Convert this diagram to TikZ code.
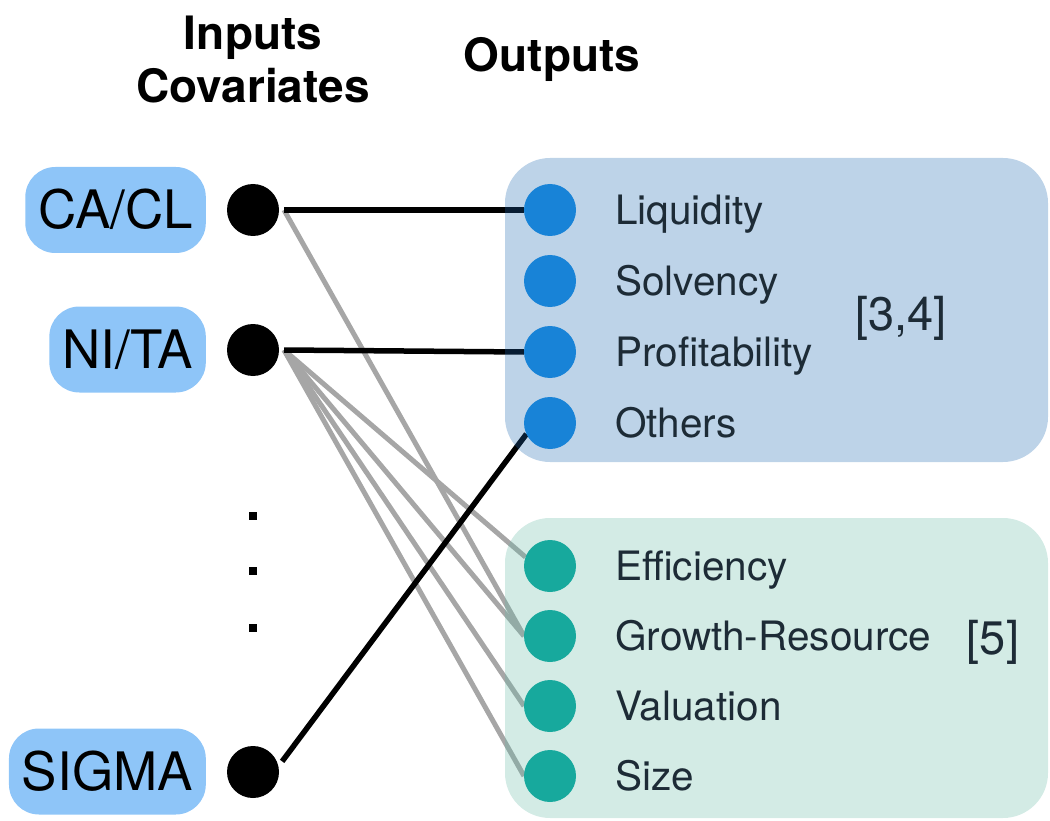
\documentclass[tikz,border=0pt]{standalone}
\usepackage{fontspec}
\setmainfont{TeX Gyre Heros}

\definecolor{inlabel}{HTML}{8EC5F8}
\definecolor{bluebox}{RGB}{28,103,176}
\definecolor{tealbox}{RGB}{103,186,166}
\definecolor{bluedot}{HTML}{1883D7}
\definecolor{tealdot}{HTML}{17A99D}
\definecolor{wire}{HTML}{A6A6A6}
\definecolor{ink}{HTML}{1D2B36}

\pgfdeclarelayer{wires}
\pgfdeclarelayer{boxes}
\pgfsetlayers{wires,boxes,main}

\tikzset{
  head/.style={font=\fontsize{46}{50}\selectfont\bfseries, inner sep=0pt, anchor=base},
  covariate/.style={fill=inlabel, rounded corners=30pt, minimum height=86pt,
    inner xsep=13pt, inner ysep=0pt, text height=38pt, text depth=0pt,
    anchor=east, font=\fontsize{53}{60}\selectfont},
  indot/.style={circle, fill=black, minimum size=52pt, inner sep=0pt, outer sep=5pt},
  outdot/.style={circle, minimum size=52pt, inner sep=0pt, outer sep=0pt},
  outlabel/.style={anchor=west, inner sep=0pt, text height=29pt, text depth=0pt,
    text=ink, font=\fontsize{40.5}{45}\selectfont},
  cite/.style={inner sep=0pt, text=ink, font=\fontsize{47}{52}\selectfont},
  tick/.style={fill=black, minimum size=8.5pt, inner sep=0pt},
  strong/.style={draw=black, line width=5.5pt},
  weak/.style={draw=wire, line width=5pt},
  group/.style={rounded corners=45pt, fill opacity=0.29},
}

\begin{document}
\begin{tikzpicture}[x=1pt, y=-1pt]
\useasboundingbox (0,0) rectangle (1050,821);

% column headings
\node[head] (hin1) at (253,50) {Inputs};
\node[head] (hin2) at (253,103) {Covariates};
\node[head] (hout) at (552,72) {Outputs};

% output groups
\begin{pgfonlayer}{boxes}
  \fill[group, bluebox] (505,158) rectangle (1048,462);
  \fill[group, tealbox] (505,518) rectangle (1048,818);
\end{pgfonlayer}

% input covariates
\node[covariate] (lca) at (206,210) {CA/CL};
\node[covariate] (lni) at (206,349.5) {NI/TA};
\node[covariate] (lsg) at (206,771.5) {SIGMA};

\node[indot] (ca) at (253,210) {};
\node[indot] (ni) at (253,350) {};
\node[indot] (sg) at (253,772) {};

\node[tick] (t1) at (253,516) {};
\node[tick] (t2) at (253,571) {};
\node[tick] (t3) at (253,628) {};

% ratio groups [3,4]
\node[outdot, fill=bluedot] (liq) at (550,210) {};
\node[outdot, fill=bluedot] (sol) at (550,281) {};
\node[outdot, fill=bluedot] (pro) at (550,352) {};
\node[outdot, fill=bluedot] (oth) at (550,423) {};
\node[outlabel] (tliq) at (615,210) {Liquidity};
\node[outlabel] (tsol) at (615,281) {Solvency};
\node[outlabel] (tpro) at (615,352) {Profitability};
\node[outlabel] (toth) at (615,423) {Others};
\node[cite] (c34) at (901,318) {[3,4]};

% ratio groups [5]
\node[outdot, fill=tealdot] (eff) at (550,566) {};
\node[outdot, fill=tealdot] (gro) at (550,636) {};
\node[outdot, fill=tealdot] (val) at (550,706) {};
\node[outdot, fill=tealdot] (siz) at (550,776) {};
\node[outlabel] (teff) at (615,566) {Efficiency};
\node[outlabel] (tgro) at (615,636) {Growth-Resource};
\node[outlabel] (tval) at (615,706) {Valuation};
\node[outlabel] (tsiz) at (615,776) {Size};
\node[cite] (c5) at (993,642) {[5]};

% connections
\begin{pgfonlayer}{wires}
  \draw[weak] (ca.east) -- (gro.west);
  \draw[weak] (ni.east) -- (eff.160);
  \draw[weak] (ni.east) -- (gro.west);
  \draw[weak] (ni.east) -- (val.west);
  \draw[weak] (ni.east) -- (siz.west);
  \draw[strong] (ca.east) -- (liq.west);
  \draw[strong] (ni.east) -- (pro.west);
  \draw[strong] (sg.20) -- (oth.205);
\end{pgfonlayer}
\end{tikzpicture}
\end{document}
